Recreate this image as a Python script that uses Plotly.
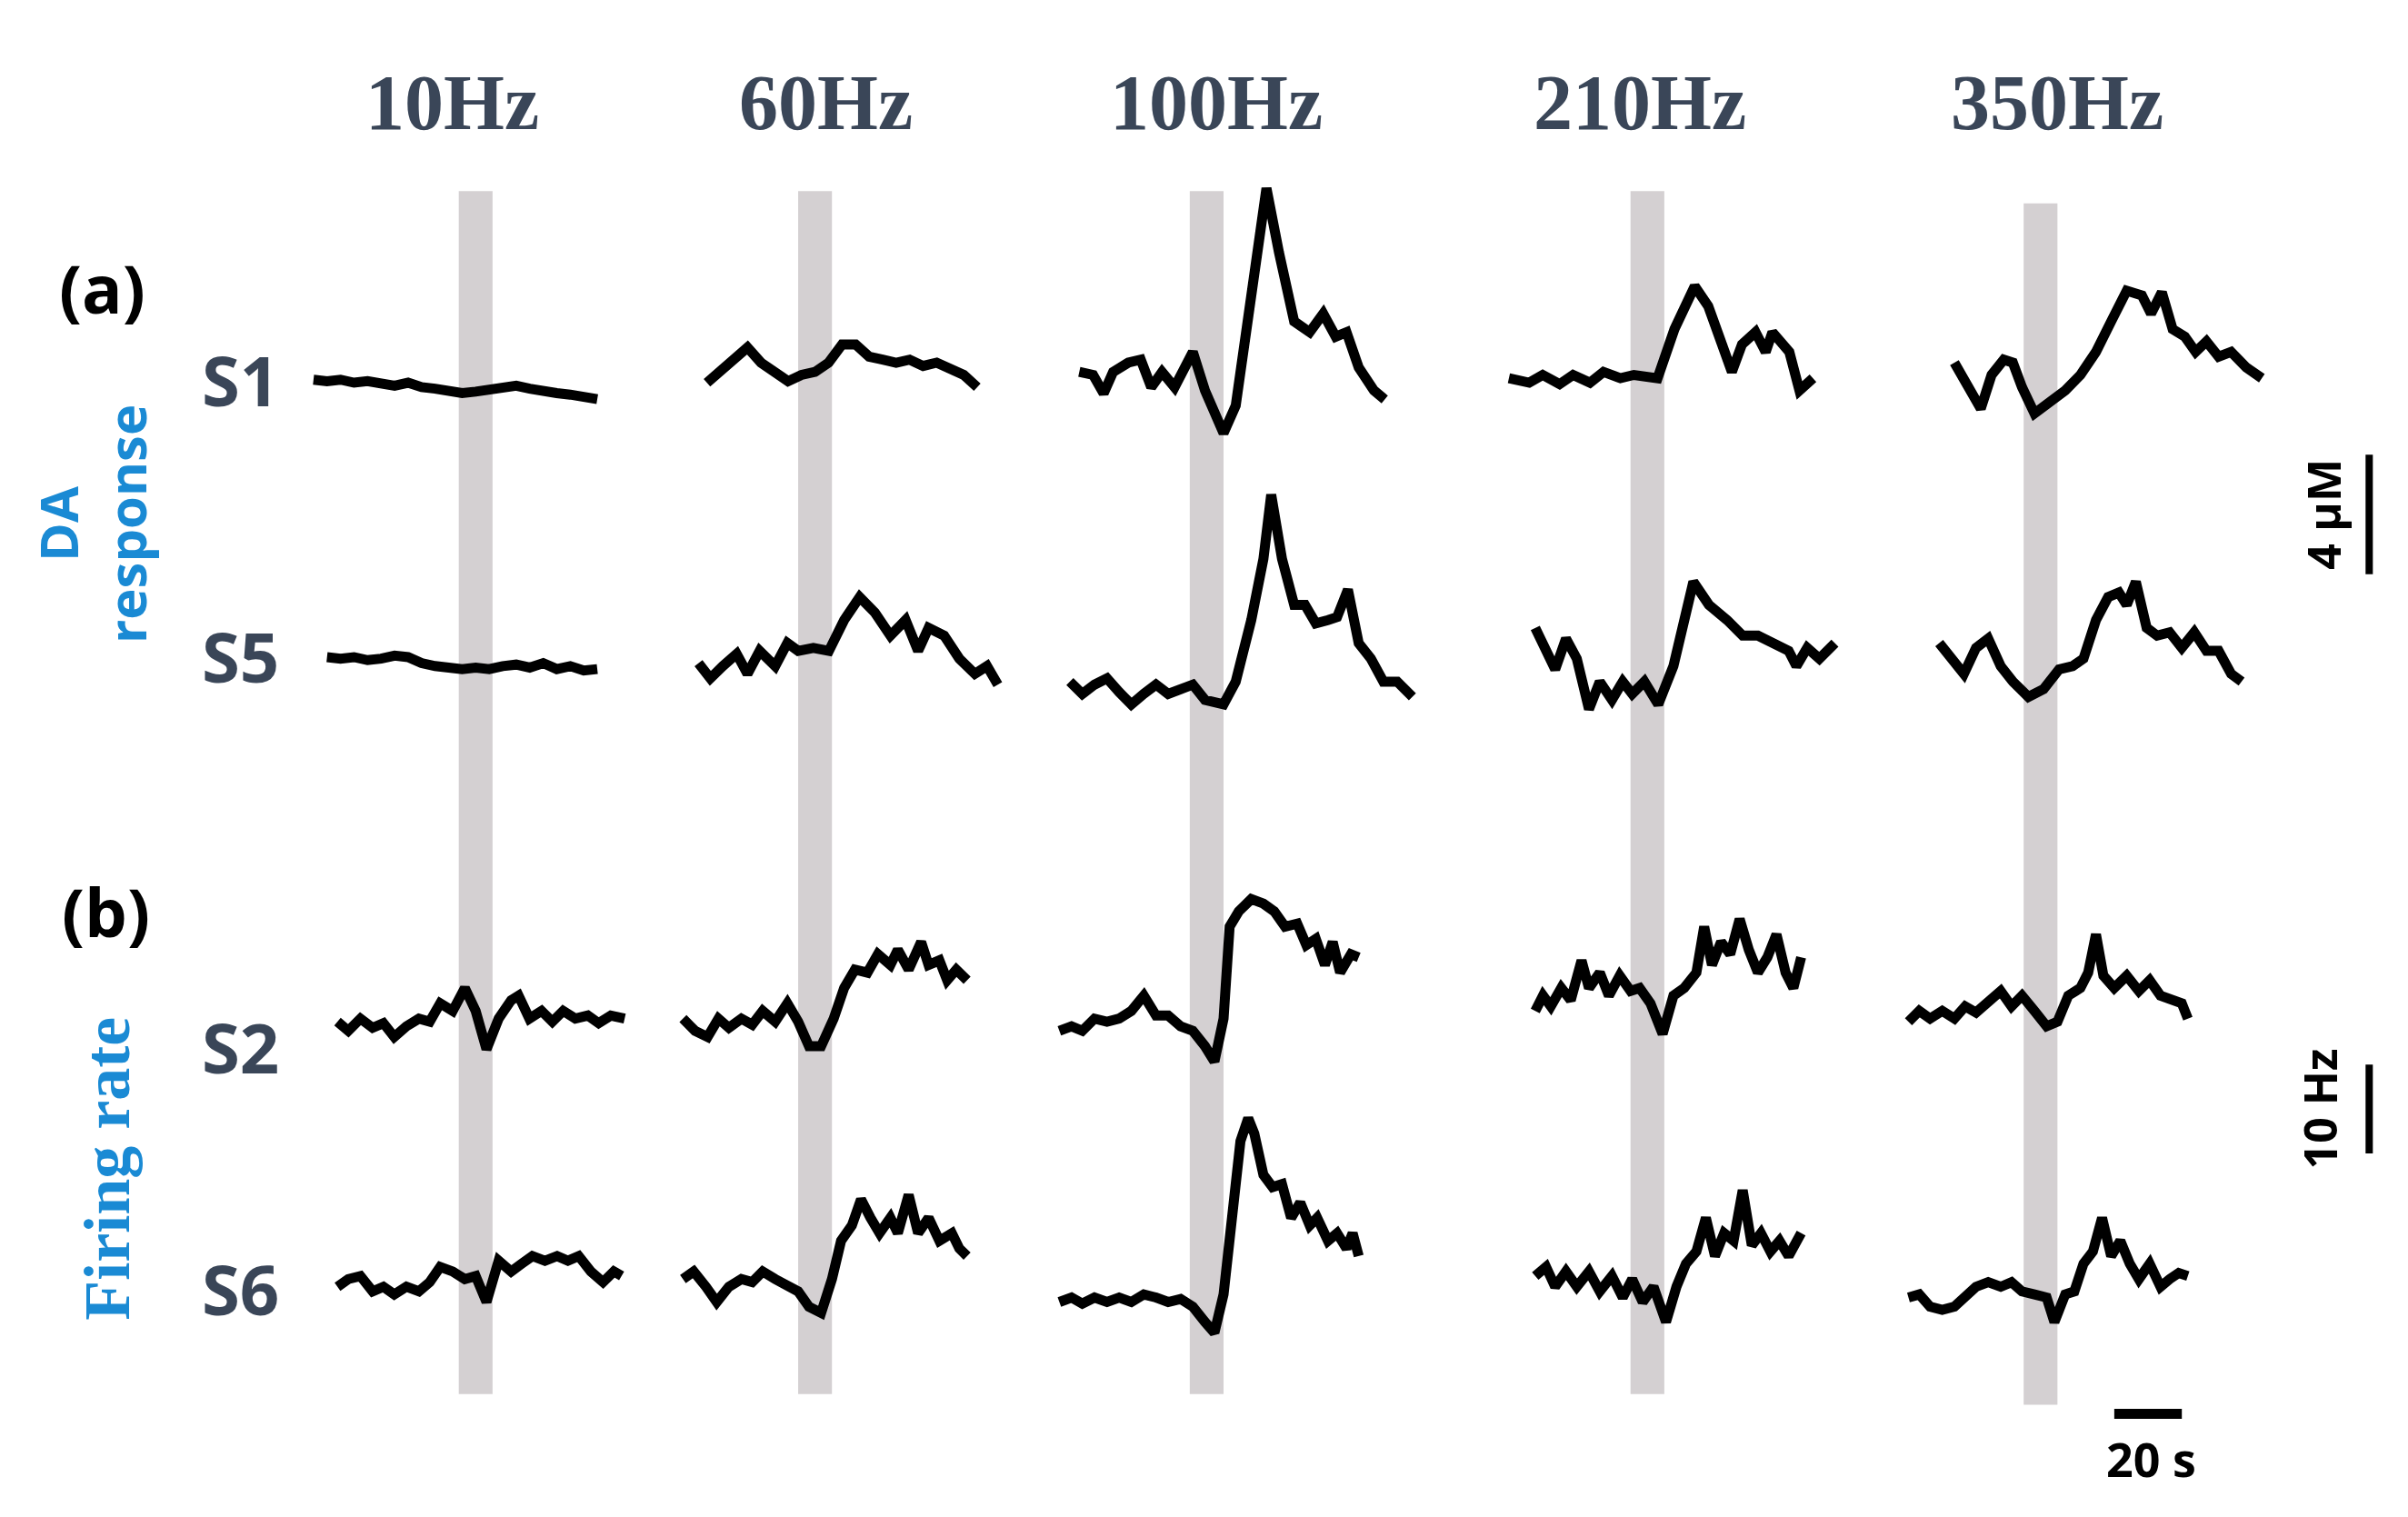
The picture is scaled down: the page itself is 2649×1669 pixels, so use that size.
import plotly.graph_objects as go

W, H = 2649, 1669
W0, H0 = 1568.0, 990.0  # reference layout units

freqs = ["10Hz", "60Hz", "100Hz", "210Hz", "350Hz"]
rows = ["S1", "S5", "S2", "S6"]

# ---- data: time (s, relative to stimulus onset) and value (µM for S1/S5, Hz for S2/S6)
t_10_S1 = [-43,-39,-35,-31,-27,-23,-19,-15,-11,-7,-3,1,5,9,13,17,21,25,29,33,37,41]
v_10_S1 = [0.1,0.05,0.1,0,0.05,-0.05,-0.1,0,-0.15,-0.2,-0.3,-0.35,-0.3,-0.25,-0.15,-0.1,-0.2,-0.3,-0.35,-0.4,-0.45,-0.55]
t_60_S1 = [-27,-23,-19,-15,-11,-7,-3,1,5,9,13,17,21,25,29,33,37,41,45,49,53]
v_60_S1 = [0,0.36,0.77,1.18,0.67,0.36,0.05,0.26,0.36,0.67,1.28,1.28,0.87,0.77,0.67,0.77,0.56,0.67,0.46,0.26,-0.15]
t_100_S1 = [-32.7,-28.6,-25.5,-22.7,-18.2,-14.5,-11.4,-8.2,-4.5,0.9,4.5,10,13.6,18.2,20.5,22.7,26.4,30.9,35.5,39.5,43.2,46.4,50,54.5,57.7]
v_100_S1 = [0.36,0.26,-0.36,0.36,0.67,0.77,-0.15,0.36,-0.15,1.03,-0.26,-1.69,-0.77,2.82,5.13,6.51,4.36,2.05,1.69,2.31,1.54,1.69,0.51,-0.26,-0.56]
t_210_S1 = [-36,-30,-26,-21,-17,-12,-8,-3,1,8,13,19,23,26,30,33,37,40,42,47,50,54]
v_210_S1 = [0.15,0,0.26,-0.05,0.26,0,0.36,0.15,0.26,0.15,1.79,3.23,2.56,1.54,0.36,1.28,1.69,1.03,1.69,1.03,-0.26,0.15]
t_350_S1 = [-20.5,-16,-12.7,-9.5,-5.9,-3.2,-0.5,3.2,7.7,12.3,16.8,21.4,25.9,30.5,35,37.7,40.9,44.1,47.7,50.9,54.1,57.7,61.4,65.9,70.5]
v_350_S1 = [0.67,-0.15,-0.87,0.26,0.77,0.67,-0.15,-1.03,-0.67,-0.26,0.26,1.03,2.05,3.08,2.92,2.31,3.03,1.79,1.54,1.03,1.38,0.87,1.03,0.51,0.15]

t_10_S5 = [-39,-35,-31,-27,-23,-19,-15,-11,-7,-3,1,5,9,13,17,21,25,29,33,37,41]
v_10_S5 = [0.2,0.15,0.2,0.1,0.15,0.25,0.2,0,-0.1,-0.15,-0.2,-0.15,-0.2,-0.1,-0.05,-0.15,0,-0.2,-0.1,-0.25,-0.2]
t_60_S5 = [-29.5,-26,-22.3,-18.2,-15,-11.4,-6.8,-3.2,0,4.5,9.1,13.6,18.2,22.7,27.3,31.8,35.5,38.6,43.2,47.7,52.3,55.9,59.1]
v_60_S5 = [0,-0.51,-0.1,0.31,-0.36,0.41,-0.1,0.67,0.41,0.51,0.41,1.44,2.21,1.69,0.92,1.44,0.41,1.18,0.92,0.15,-0.36,-0.1,-0.72]
t_100_S5 = [-35.5,-31.8,-28.2,-24.5,-20.9,-17.3,-13.6,-10,-6.4,-2.7,0.9,4.5,10,13.6,18.2,21.8,24.1,27.3,30.9,34.1,37.3,40.9,43.6,46.8,50,53.6,57.3,61.4,65.9]
v_100_S5 = [-0.62,-1.03,-0.72,-0.51,-0.97,-1.38,-1.03,-0.72,-1.03,-0.87,-0.72,-1.23,-1.38,-0.62,1.44,3.49,5.64,3.49,1.95,1.95,1.33,1.44,1.54,2.46,0.67,0.15,-0.62,-0.62,-1.13]
t_210_S5 = [-28.2,-25,-22.3,-19.1,-15.9,-12.3,-9.1,-5.5,-2.3,0.5,4.1,8.2,12.7,18.6,23.2,28.6,33.2,37.7,42.3,46.8,49.1,52.3,55.9,60.5]
v_210_S5 = [1.18,0.41,-0.21,0.82,0.15,-1.54,-0.62,-1.23,-0.62,-1.03,-0.62,-1.38,-0.1,2.72,1.95,1.44,0.92,0.92,0.67,0.41,-0.1,0.51,0.15,0.67]
t_350_S5 = [-25,-21.4,-17.7,-14.1,-10.5,-6.8,-3.2,1.4,5.9,10.5,14.5,17.7,21.4,25,28.2,30.5,33.2,36.4,39.5,43.2,46.8,50.5,54.1,57.7,61.4,64.5]
v_350_S5 = [0.67,0.15,-0.36,0.51,0.82,-0.1,-0.62,-1.13,-0.87,-0.21,-0.1,0.15,1.44,2.21,2.36,1.95,2.72,1.18,0.92,1.03,0.51,1.03,0.41,0.41,-0.36,-0.62]

t_10_S2 = [-35.9,-32.7,-29.1,-25.5,-22.3,-19.1,-15.5,-11.8,-8.6,-5.5,-1.8,1.8,5,8.2,11.8,15.5,17.7,20.9,24.5,27.7,30.9,34.5,38.2,41.4,45,49.1]
v_10_S2 = [0,-1.03,0.34,-0.69,-0.17,-1.72,-0.52,0.34,0,2.07,1.21,3.79,1.21,-3.10,0.34,2.41,2.93,0.34,1.21,0,1.21,0.34,0.69,-0.17,0.69,0.34]
t_60_S2 = [-34.1,-30.5,-26.8,-23.6,-20.5,-16.8,-13.6,-10.5,-6.8,-3.2,0,3.2,6.8,10.5,13.6,16.8,20.5,23.6,27.3,29.5,32.7,36.4,38.6,41.8,44.1,46.8,50]
v_60_S2 = [0.34,-1.03,-1.72,0.34,-0.69,0.34,-0.34,1.21,0,2.07,0,-2.76,-2.76,0.34,3.79,5.86,5.52,7.59,6.38,8.10,5.86,8.97,6.38,6.90,4.66,5.86,4.66]
t_100_S2 = [-38.6,-35,-31.8,-28.2,-24.5,-20.9,-17.3,-13.6,-10,-6.4,-2.7,0.9,4.5,7.3,10,11.8,14.5,18.2,21.8,25,28.2,31.8,34.5,37.3,40,42.3,44.5,47.7,50]
v_100_S2 = [-1.03,-0.52,-1.03,0.34,0,0.34,1.21,2.93,0.69,0.69,-0.52,-1.03,-2.76,-4.48,0.34,10.69,12.41,13.79,13.28,12.41,10.69,11.03,8.62,9.31,6.38,8.97,5.52,7.59,7.24]
t_210_S2 = [-28.2,-25.9,-23.6,-20.5,-17.7,-14.5,-12.3,-9.1,-6.4,-3.2,0,2.7,5.9,9.5,12.7,15.9,19.5,21.8,24.1,26.8,29.5,32.3,35,37.7,40.5,43.2,45.9,48.2,50.5]
v_210_S2 = [1.21,2.93,1.72,3.79,2.41,6.90,3.79,5.52,2.93,5.17,3.45,3.79,2.07,-1.38,2.93,3.79,5.52,10.69,6.38,8.97,7.59,11.55,8.10,5.52,7.24,9.83,5.52,3.79,7.24]
t_350_S2 = [-34.1,-30.9,-27.7,-24.1,-20.5,-17.3,-14.1,-10.5,-6.8,-3.6,-0.5,3.2,6.8,10,13.2,16.8,19.1,21.4,23.6,26.8,30.5,34.1,37.3,40.5,44.1,46.8,48.6]
v_350_S2 = [0,1.21,0.34,1.21,0.34,1.72,1.03,2.07,3.45,1.72,2.93,1.21,-0.52,0,2.93,3.79,5.52,9.83,5.17,3.79,5.17,3.45,4.66,2.93,2.41,2.07,0.34]

t_10_S6 = [-35.9,-32.7,-29.1,-25.5,-22.3,-19.1,-15.5,-11.8,-8.6,-5.5,-1.8,1.8,5,8.2,11.8,15.5,18.6,21.8,25.5,29.1,32.3,35.5,39.1,42.7,45.9,48.2]
v_10_S6 = [0,0.86,1.21,-0.52,0,-0.86,0,-0.52,0.52,2.24,1.72,0.86,1.21,-1.72,2.93,1.72,2.59,3.45,2.93,3.45,2.93,3.45,1.72,0.52,1.72,1.21]
t_60_S6 = [-34.1,-30.9,-27.3,-24.1,-20.5,-16.8,-13.6,-10.5,-6.8,-3.2,0,3.2,6.8,10,12.7,15.9,18.6,21.4,24.1,27.3,29.5,32.7,35.5,38.6,41.8,45.5,47.7,50]
v_60_S6 = [0.86,1.72,0,-1.72,0,0.86,0.52,1.72,0.86,0,-0.52,-2.24,-2.93,0.86,5.17,6.90,9.83,7.76,6.03,7.76,6.03,10.34,6.03,7.76,5.17,6.03,4.31,3.45]
t_100_S6 = [-38.6,-35,-31.8,-28.2,-24.5,-20.9,-17.3,-13.6,-10,-6.4,-2.7,0.9,4.5,7.3,10,12.7,15,17.3,19.1,21.8,24.5,27.3,30,32.7,35.5,37.7,40.9,43.6,46.4,48.2,50]
v_100_S6 = [-1.72,-1.21,-1.90,-1.21,-1.72,-1.21,-1.72,-0.86,-1.21,-1.72,-1.38,-2.24,-3.97,-5.17,-0.86,9.48,16.38,18.97,17.24,12.59,11.21,11.55,7.76,9.48,6.90,7.76,5.17,6.03,4.31,6.03,3.45]
t_210_S6 = [-28.2,-25,-22.3,-19.1,-15.9,-12.3,-9.1,-5.5,-2.3,0.5,3.6,6.8,10.5,13.6,16.4,19.5,22.3,25,27.7,30.5,33.2,35.9,38.6,41.4,44.1,46.8,50.5]
v_210_S6 = [1.21,2.24,0,1.72,0,1.72,-0.52,1.21,-1.21,0.86,-1.72,0,-3.97,0,2.59,3.97,7.76,3.45,6.03,5.17,10.86,4.66,6.03,3.97,5.17,3.45,6.03]
t_350_S6 = [-34.1,-30.9,-27.7,-24.1,-20.5,-17.3,-14.1,-10.5,-6.8,-3.6,-0.5,3.2,6.8,9.1,12.3,15,17.7,20.5,23.2,25.9,28.6,31.4,34.1,37.3,40.5,43.2,45.9,48.6]
v_350_S6 = [-1.21,-0.86,-2.24,-2.59,-2.24,-1.21,0,0.52,0,0.52,-0.52,-0.86,-1.21,-3.97,-0.86,-0.52,2.59,3.97,7.76,3.45,5.17,2.59,0.86,2.59,0,0.86,1.55,1.21]

series = {
    "S1": [(t_10_S1, v_10_S1), (t_60_S1, v_60_S1), (t_100_S1, v_100_S1), (t_210_S1, v_210_S1), (t_350_S1, v_350_S1)],
    "S5": [(t_10_S5, v_10_S5), (t_60_S5, v_60_S5), (t_100_S5, v_100_S5), (t_210_S5, v_210_S5), (t_350_S5, v_350_S5)],
    "S2": [(t_10_S2, v_10_S2), (t_60_S2, v_60_S2), (t_100_S2, v_100_S2), (t_210_S2, v_210_S2), (t_350_S2, v_350_S2)],
    "S6": [(t_10_S6, v_10_S6), (t_60_S6, v_60_S6), (t_100_S6, v_100_S6), (t_210_S6, v_210_S6), (t_350_S6, v_350_S6)],
}
stim_duration = 10  # s

# ---- layout geometry (reference units)
col_bounds = [(170, 415), (415, 653), (653, 925), (925, 1196), (1196, 1480)]
stim_left = [294, 515, 770, 1057, 1313]
px_per_s = 2.2
row_geom = [(105, 295, 245, 19.5), (300, 480, 428, 19.5), (560, 705, 662, 5.8), (710, 880, 835, 5.8)]  # top, bottom, baseline, px/unit
bar_spans = [(120, 905), (120, 905), (120, 905), (120, 905), (128, 912)]

fig = go.Figure()
layout = {}
for r, name in enumerate(rows):
    top, bot, base, ppu = row_geom[r]
    for c in range(5):
        i = r * 5 + c + 1
        xa = "x" if i == 1 else f"x{i}"
        ya = "y" if i == 1 else f"y{i}"
        L, R = col_bounds[c]
        t, v = series[name][c]
        fig.add_trace(go.Scatter(x=t, y=v, mode="lines", xaxis=xa, yaxis=ya,
                                 line=dict(color="black", width=11), showlegend=False,
                                 hoverinfo="skip"))
        layout["xaxis" if i == 1 else f"xaxis{i}"] = dict(
            domain=[L / W0, R / W0],
            range=[-(stim_left[c] - L) / px_per_s, (R - stim_left[c]) / px_per_s],
            visible=False, anchor=ya)
        layout["yaxis" if i == 1 else f"yaxis{i}"] = dict(
            domain=[1 - bot / H0, 1 - top / H0],
            range=[-(bot - base) / ppu, (base - top) / ppu],
            visible=False, anchor=xa)
fig.update_layout(**layout)

shapes = []
for c in range(5):
    xa = "x" if c == 0 else f"x{c+1}"
    y0, y1 = bar_spans[c]
    shapes.append(dict(type="rect", xref=xa, yref="paper", x0=0, x1=stim_duration,
                       y0=1 - y1 / H0, y1=1 - y0 / H0, fillcolor="#d4d0d2",
                       line=dict(width=0), layer="below"))
# scale bars (4 µM, 10 Hz, 20 s)
shapes.append(dict(type="line", xref="paper", yref="paper", x0=1538 / W0, x1=1538 / W0,
                   y0=1 - 370 / H0, y1=1 - 292 / H0, line=dict(color="black", width=8)))
shapes.append(dict(type="line", xref="paper", yref="paper", x0=1538 / W0, x1=1538 / W0,
                   y0=1 - 748 / H0, y1=1 - 690 / H0, line=dict(color="black", width=8)))
shapes.append(dict(type="line", xref="x5", yref="paper", x0=(1372 - 1313) / px_per_s,
                   x1=(1372 - 1313) / px_per_s + 20, y0=1 - 918 / H0, y1=1 - 918 / H0,
                   line=dict(color="black", width=11)))

ann = []
def A(x, y, text, size, color, family, angle=0):
    ann.append(dict(xref="paper", yref="paper", x=x / W0, y=1 - y / H0, text=text,
                    showarrow=False, textangle=angle, xanchor="center", yanchor="middle",
                    font=dict(size=size, color=color, family=family)))

title_centers = [290, 533, 787, 1063, 1335]
for f, xc in zip(freqs, title_centers):
    A(xc, 62, f"<b>{f}</b>", 86, "#3a4658", "Liberation Serif")
sans = "Open Sans"
for name, y in zip(rows, [243, 423, 678, 836]):
    A(152, y, f"<b>{name}</b>", 76, "#3a4658", sans)
A(62, 183, "<b>(a)</b>", 74, "black", sans)
A(64, 590, "<b>(b)</b>", 74, "black", sans)
A(55, 337, "<b>DA<br>response</b>", 58, "#1a8ad4", sans, angle=-90)
A(65, 758, "<b>Firing rate</b>", 72, "#1a8ad4", "Liberation Serif", angle=-90)
A(1508, 331, "<b>4 µM</b>", 50, "black", sans, angle=-90)
A(1506, 719, "<b>10 Hz</b>", 50, "black", sans, angle=-90)
A(1396, 947, "<b>20 s</b>", 52, "black", sans)

fig.update_layout(width=W, height=H, margin=dict(l=0, r=0, t=0, b=0),
                  paper_bgcolor="white", plot_bgcolor="rgba(0,0,0,0)",
                  shapes=shapes, annotations=ann)
fig.write_html("out.html")
